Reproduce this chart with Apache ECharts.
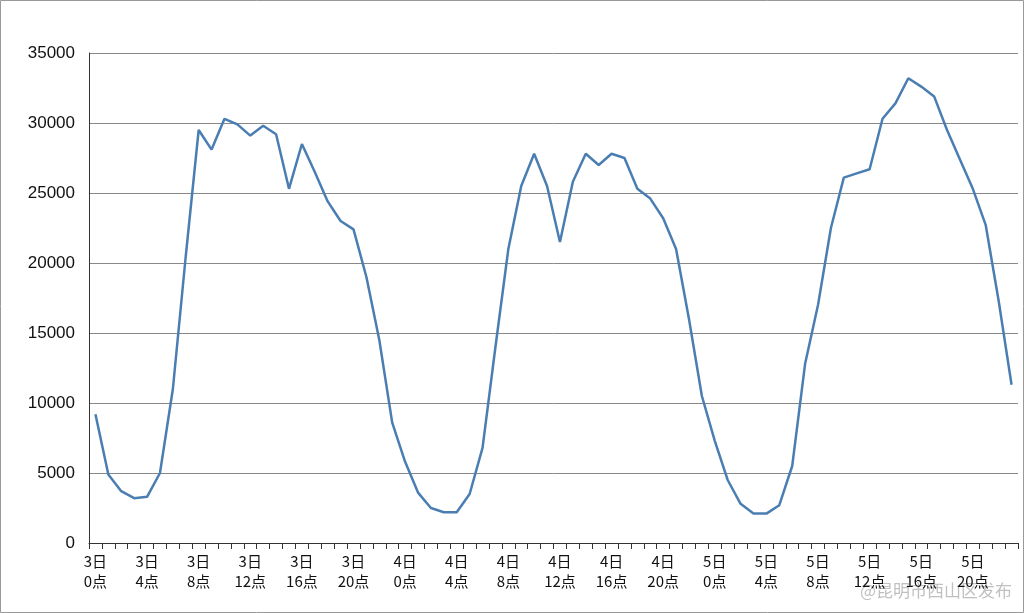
<!DOCTYPE html>
<html><head><meta charset="utf-8">
<script src="https://cdn.jsdelivr.net/npm/echarts@6/dist/echarts.min.js"></script>
<style>html,body{margin:0;padding:0;background:#fff}#c{width:1024px;height:613px}</style>
</head><body><div id="c"></div>
<script>
const days = ['3日','4日','5日'];
const categories = [];
days.forEach(d => { for (let h = 0; h < 24; h++) categories.push(d + '\n' + h + '点'); });
const values = [
 9200,4900,3700,3200,3300,5000,11000,20500,29500,28100,30300,29900,29100,29800,29200,25300,28500,26500,24400,23000,22400,19000,14500,8600,
 5800,3600,2500,2200,2200,3500,6800,14000,21000,25500,27800,25500,21500,25800,27800,27000,27800,27500,25300,24600,23200,21000,16000,10500,
 7300,4500,2800,2100,2100,2700,5500,12800,17000,22500,26100,26400,26700,30300,31400,33200,32600,31900,29500,27400,25300,22700,17300,11300
];
const yTicks = [0,5000,10000,15000,20000,25000,30000,35000];
const chart = echarts.init(document.getElementById('c'));
chart.setOption({
  animation:false,
  grid:{left:89,right:6,top:53,bottom:70},
  graphic:[
    {type:'rect',shape:{x:0.5,y:0.5,width:1023,height:612},style:{fill:'none',stroke:'#999',lineWidth:1}},
    {type:'text',right:12,bottom:14,style:{text:'@昆明市西山区发布',fill:'rgba(150,150,150,0.6)',font:'17px "Noto Sans CJK SC"'}}
  ],
  xAxis:{type:'category',data:categories,boundaryGap:true,
    axisLine:{lineStyle:{color:'#333'}},
    axisTick:{show:true,interval:0,length:6,lineStyle:{color:'#333'}},
    axisLabel:{interval:3,color:'#111',fontSize:15,lineHeight:20,fontFamily:'"Noto Sans CJK SC"',margin:8},
    splitLine:{show:false}},
  yAxis:{type:'value',min:0,max:35000,interval:5000,
    axisLine:{show:true,lineStyle:{color:'#333'}},
    axisTick:{show:false},
    axisLabel:{color:'#111',fontSize:17,margin:14,formatter:v=>yTicks.includes(v)?String(v):''},
    splitLine:{lineStyle:{color:'#888',width:1}}},
  series:[{type:'line',data:values,showSymbol:false,lineStyle:{color:'#4a7eb2',width:2.5},itemStyle:{color:'#4a7eb2'}}]
});
</script></body></html>
